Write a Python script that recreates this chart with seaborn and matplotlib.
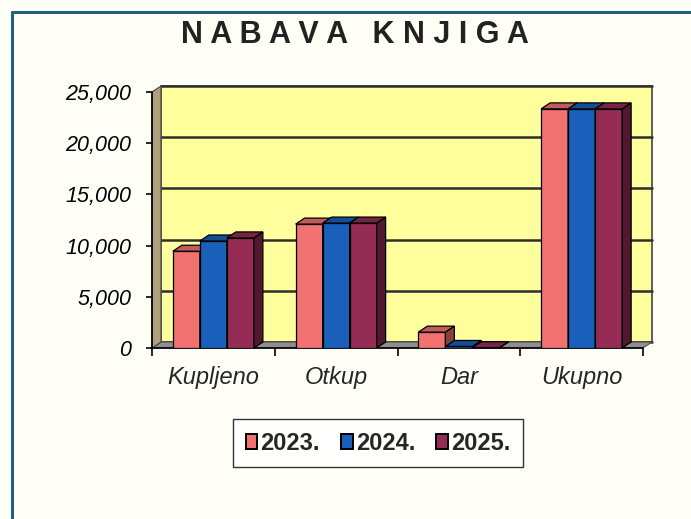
import matplotlib
matplotlib.use("Agg")
import numpy as np
import pandas as pd
import matplotlib.pyplot as plt
import matplotlib.colors as mcolors
from matplotlib.patches import Polygon, Rectangle, Patch
from matplotlib.lines import Line2D
from matplotlib.transforms import ScaledTranslation, IdentityTransform
import seaborn as sns

# --- data ---
categories = ["Kupljeno", "Otkup", "Dar", "Ukupno"]
years = ["2023.", "2024.", "2025."]
values_2023 = [9450, 12100, 1550, 23350]
values_2024 = [10450, 12200, 150, 23350]
values_2025 = [10750, 12200, 30, 23350]
y_ticks = [0, 5000, 10000, 15000, 20000, 25000]

bar_colors = ["#F27272", "#1A5FBA", "#952C55"]
WALL = "#FFFF9E"
FLOOR = "#8E8E8E"
SIDE_WALL = "#ADA27C"
DX, DY = 9, 6  # depth of the fake 3D effect, pixels

df = pd.DataFrame({
    "kategorija": categories * 3,
    "godina": [y for y in years for _ in categories],
    "broj": values_2023 + values_2024 + values_2025,
})

sns.set_style("white")
plt.rcParams["font.family"] = ["Liberation Sans", "DejaVu Sans"]

fig = plt.figure(figsize=(6.91, 5.19), dpi=100)
fig.patch.set_facecolor("#FFFFF8")
W, H = 691, 519
ax = fig.add_axes([152 / W, 171 / H, 491 / W, 256 / H])
ax.set_facecolor("none")

sns.barplot(data=df, x="kategorija", y="broj", hue="godina", palette=bar_colors,
            width=0.66, saturation=1, edgecolor="black", linewidth=0.9,
            legend=False, ax=ax)
ax.set_xlim(-0.5, len(categories) - 0.5)
ax.set_ylim(0, 25000)

off = ScaledTranslation(DX / 100, DY / 100, fig.dpi_scale_trans)

# back wall + gridlines
ax.add_patch(Rectangle((0, 0), 1, 1, transform=ax.transAxes + off, facecolor=WALL,
                       edgecolor="#444444", lw=1.2, zorder=0, clip_on=False))
for v in y_ticks:
    ax.plot([0, 1], [v, v], transform=ax.get_yaxis_transform() + off,
            color="#2E2E2E", lw=1.8, zorder=0.5, clip_on=False)

# floor and left wall
(x0, y0), (x1, y1) = ax.transAxes.transform([(0, 0), (1, 1)])
ax.add_patch(Polygon([(x0, y0), (x1, y0), (x1 + DX, y0 + DY), (x0 + DX, y0 + DY)],
                     transform=IdentityTransform(), facecolor=FLOOR, edgecolor="#555555",
                     lw=0.8, zorder=1, clip_on=False))
ax.add_patch(Polygon([(x0, y0), (x0, y1), (x0 + DX, y1 + DY), (x0 + DX, y0 + DY)],
                     transform=IdentityTransform(), facecolor=SIDE_WALL, edgecolor="#444444",
                     lw=0.8, zorder=1, clip_on=False))


def shade(c, f):
    r, g, b = mcolors.to_rgb(c)
    return (r * f, g * f, b * f)


# 3D top and side faces for every bar
for h, cont in enumerate(ax.containers):
    col = bar_colors[h]
    for bar in cont:
        bar.set_zorder(3 + h)
        bx0, by0 = bar.get_x(), bar.get_y()
        bx1, by1 = bx0 + bar.get_width(), by0 + bar.get_height()
        (px0, py0), (px1, py1) = ax.transData.transform([(bx0, by0), (bx1, by1)])
        top = [(px0, py1), (px1, py1), (px1 + DX, py1 + DY), (px0 + DX, py1 + DY)]
        side = [(px1, py0), (px1, py1), (px1 + DX, py1 + DY), (px1 + DX, py0 + DY)]
        ax.add_patch(Polygon(side, transform=IdentityTransform(), facecolor=shade(col, 0.55),
                             edgecolor="black", lw=0.9, zorder=3 + h, clip_on=False))
        ax.add_patch(Polygon(top, transform=IdentityTransform(), facecolor=shade(col, 0.8),
                             edgecolor="black", lw=0.9, zorder=3 + h, clip_on=False))

# axes, ticks, labels
for s in ["top", "right"]:
    ax.spines[s].set_visible(False)
for s in ["left", "bottom"]:
    ax.spines[s].set_color("black")
    ax.spines[s].set_linewidth(1.2)
    ax.spines[s].set_zorder(2)

ax.set_yticks(y_ticks)
ax.set_yticklabels([f"{v:,}" for v in y_ticks], fontsize=15.5, style="italic")
ax.tick_params(axis="y", left=True, length=4, width=1.2, pad=11, colors="black")
ax.set_xticks(range(len(categories)))
ax.set_xticklabels(categories, fontsize=17, style="italic")
ax.set_xticks(np.arange(-0.5, len(categories), 1.0), minor=True)
ax.tick_params(axis="x", which="major", bottom=False, length=0, pad=13)
ax.tick_params(axis="x", which="minor", bottom=True, length=6, width=1.2, color="black")
ax.set_xlabel("")
ax.set_ylabel("")
ax.grid(False)

# legend
handles = [Patch(facecolor=c, edgecolor="black", lw=1.4) for c in bar_colors]
leg = fig.legend(handles, years, loc="center", bbox_to_anchor=(378 / W, 1 - 443 / H),
                 ncol=3, frameon=True, fancybox=False, edgecolor="black",
                 prop={"size": 17, "weight": "bold"}, handlelength=0.5, handleheight=0.6,
                 handletextpad=0.12, columnspacing=0.9, borderpad=0.55)
leg.get_frame().set_linewidth(1.0)
leg.get_frame().set_facecolor("white")

# title
fig.text(355 / W, 1 - 35 / H, "N A B A V A   K N J I G A", ha="center", va="center",
         fontsize=22, fontweight="bold", color="#222222")

# page border lines
fig.add_artist(Line2D([12 / W, 12 / W], [0, 1 - 12 / H], transform=fig.transFigure,
                      color="#22607E", lw=2.2))
fig.add_artist(Line2D([12 / W, 1], [1 - 12 / H, 1 - 12 / H], transform=fig.transFigure,
                      color="#22607E", lw=2.2))

fig.savefig("out.png", dpi=100, facecolor=fig.get_facecolor())
